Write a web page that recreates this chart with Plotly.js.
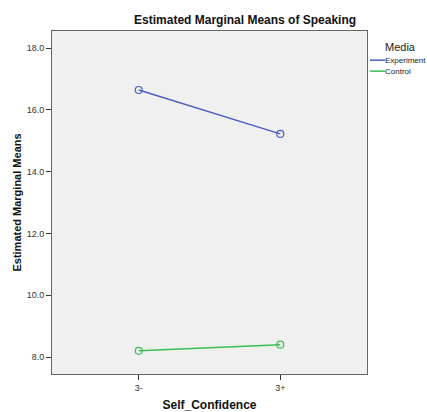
<!DOCTYPE html>
<html>
<head>
<meta charset="utf-8">
<script src="https://cdn.plot.ly/plotly-3.0.1.min.js"></script>
<style>html,body{margin:0;padding:0;background:#fff;}#chart{width:427px;height:412px;}</style>
</head>
<body>
<div id="chart"></div>
<script>
const categories = ["3-", "3+"];
const seriesNames = ["Experiment", "Control"];
const experimentValues = [16.64, 15.22];
const controlValues = [8.20, 8.40];
const yTickValues = [8, 10, 12, 14, 16, 18];

const colors = ["#4a5fc1", "#3cbf55"];
const values = [experimentValues, controlValues];

const traces = seriesNames.map((name, i) => ({
  type: "scatter",
  mode: "lines+markers",
  name: name,
  x: categories,
  y: values[i],
  line: {color: colors[i], width: 1.5},
  marker: {symbol: "circle-open", size: 7, color: colors[i], line: {width: 1.2}},
  showlegend: false,
  hoverinfo: "skip"
}));

const annotations = [
  {text: "Media", xref: "paper", yref: "paper", x: 1.052, y: 0.952, xanchor: "left", yanchor: "middle",
   showarrow: false, font: {family: "Liberation Sans, Arial", size: 11, color: "#222"}}
];
const shapes = [];
seriesNames.forEach((name, i) => {
  const yy = 0.915 - i * 0.032;
  annotations.push({text: name, xref: "paper", yref: "paper", x: 1.054, y: yy, xanchor: "left", yanchor: "middle",
    showarrow: false, borderpad: 0, font: {family: "Liberation Sans, Arial", size: 8, color: "#222"}});
  shapes.push({type: "line", xref: "paper", yref: "paper", x0: 1.0095, x1: 1.057, y0: yy, y1: yy,
    line: {color: colors[i], width: 1.5}});
});

const layout = {
  width: 427,
  height: 412,
  margin: {l: 52, r: 60, t: 31, b: 38},
  paper_bgcolor: "#ffffff",
  plot_bgcolor: "#f0f0f0",
  font: {family: "Liberation Sans, Arial", color: "#333", size: 9},
  title: {text: "<b>Estimated Marginal Means of Speaking</b>", xref: "container", yref: "container",
    x: 0.574, xanchor: "center", y: 0.951, yanchor: "middle",
    font: {family: "Liberation Sans, Arial", size: 12, color: "#111"}},
  xaxis: {
    type: "category",
    range: [-0.613, 1.613],
    showgrid: false, zeroline: false,
    showline: true, mirror: true, linecolor: "#666", linewidth: 1,
    ticks: "outside", ticklen: 5, tickcolor: "#333",
    tickfont: {size: 9, color: "#333"},
    title: {text: "<b>Self_Confidence</b>", standoff: 8, font: {size: 12, color: "#111"}}
  },
  yaxis: {
    range: [7.45, 18.55],
    tickvals: yTickValues,
    tickformat: ".1f",
    showgrid: false, zeroline: false,
    showline: true, mirror: true, linecolor: "#666", linewidth: 1,
    ticks: "outside", ticklen: 5, tickcolor: "#333",
    tickfont: {size: 9, color: "#333"},
    title: {text: "<b>Estimated Marginal Means</b>", standoff: 2, font: {size: 11, color: "#111"}}
  },
  annotations: annotations,
  shapes: shapes,
  showlegend: false
};

Plotly.newPlot("chart", traces, layout, {displayModeBar: false, staticPlot: true});
</script>
</body>
</html>
